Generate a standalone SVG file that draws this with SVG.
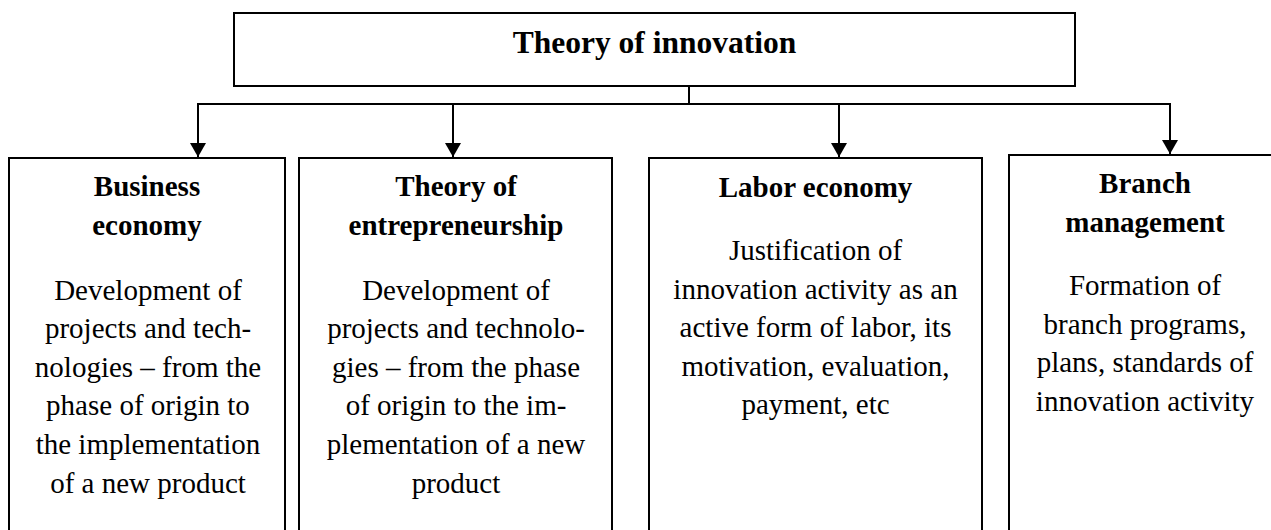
<svg xmlns="http://www.w3.org/2000/svg" width="1271" height="530" viewBox="0 0 1271 530">
<style>
.box{fill:#fff;stroke:#000;stroke-width:2}
.conn{fill:none;stroke:#000;stroke-width:2}
text{font-family:"Liberation Serif","Times New Roman",serif;fill:#000;text-anchor:middle}
.title{font-size:31.5px;font-weight:bold}
.hd{font-size:29px;font-weight:bold}
.bd{font-size:29px}
</style>
<defs>
<marker id="arr" markerUnits="userSpaceOnUse" markerWidth="14" markerHeight="16" refX="14" refY="8" orient="auto" viewBox="0 0 14 16">
<path d="M0,0 L14,8 L0,16 Z" fill="#000"/>
</marker>
</defs>
<rect width="1271" height="530" fill="#fff"/>
<g id="connectors">
<line class="conn" x1="689" y1="87" x2="689" y2="104"/>
<line class="conn" x1="197" y1="104" x2="1171" y2="104"/>
<path class="conn" d="M198,104 V157" marker-end="url(#arr)"/>
<path class="conn" d="M453,104 V157" marker-end="url(#arr)"/>
<path class="conn" d="M839,104 V157" marker-end="url(#arr)"/>
<path class="conn" d="M1170,104 V154" marker-end="url(#arr)"/>
</g>
<g id="root">
<rect class="box" x="234" y="13" width="841" height="73"/>
<text class="title" x="654.5" y="53">Theory of innovation</text>
</g>
<g id="business-economy">
<rect class="box" x="9" y="158" width="276" height="390"/>
<text class="hd" x="147" y="196">Business</text>
<text class="hd" x="147" y="235">economy</text>
<text class="bd" x="148" y="299.5">Development of</text>
<text class="bd" x="148" y="338">projects and tech-</text>
<text class="bd" x="148" y="376.7">nologies – from the</text>
<text class="bd" x="148" y="415.3">phase of origin to</text>
<text class="bd" x="148" y="453.9">the implementation</text>
<text class="bd" x="148" y="492.5">of a new product</text>
</g>
<g id="theory-of-entrepreneurship">
<rect class="box" x="299" y="158" width="313" height="390"/>
<text class="hd" x="456" y="196">Theory of</text>
<text class="hd" x="456" y="235">entrepreneurship</text>
<text class="bd" x="456" y="299.5">Development of</text>
<text class="bd" x="456" y="338">projects and technolo-</text>
<text class="bd" x="456" y="376.7">gies – from the phase</text>
<text class="bd" x="456" y="415.3">of origin to the im-</text>
<text class="bd" x="456" y="453.9">plementation of a new</text>
<text class="bd" x="456" y="492.5">product</text>
</g>
<g id="labor-economy">
<rect class="box" x="649" y="158" width="333" height="390"/>
<text class="hd" x="815.5" y="197">Labor economy</text>
<text class="bd" x="815.5" y="260">Justification of</text>
<text class="bd" x="815.5" y="298.5">innovation activity as an</text>
<text class="bd" x="815.5" y="337">active form of labor, its</text>
<text class="bd" x="815.5" y="375.5">motivation, evaluation,</text>
<text class="bd" x="815.5" y="414">payment, etc</text>
</g>
<g id="branch-management">
<rect class="box" x="1009" y="155" width="300" height="395"/>
<text class="hd" x="1145" y="193">Branch</text>
<text class="hd" x="1145" y="232">management</text>
<text class="bd" x="1145" y="295">Formation of</text>
<text class="bd" x="1145" y="333.5">branch programs,</text>
<text class="bd" x="1145" y="372">plans, standards of</text>
<text class="bd" x="1145" y="410.5">innovation activity</text>
</g>
</svg>
